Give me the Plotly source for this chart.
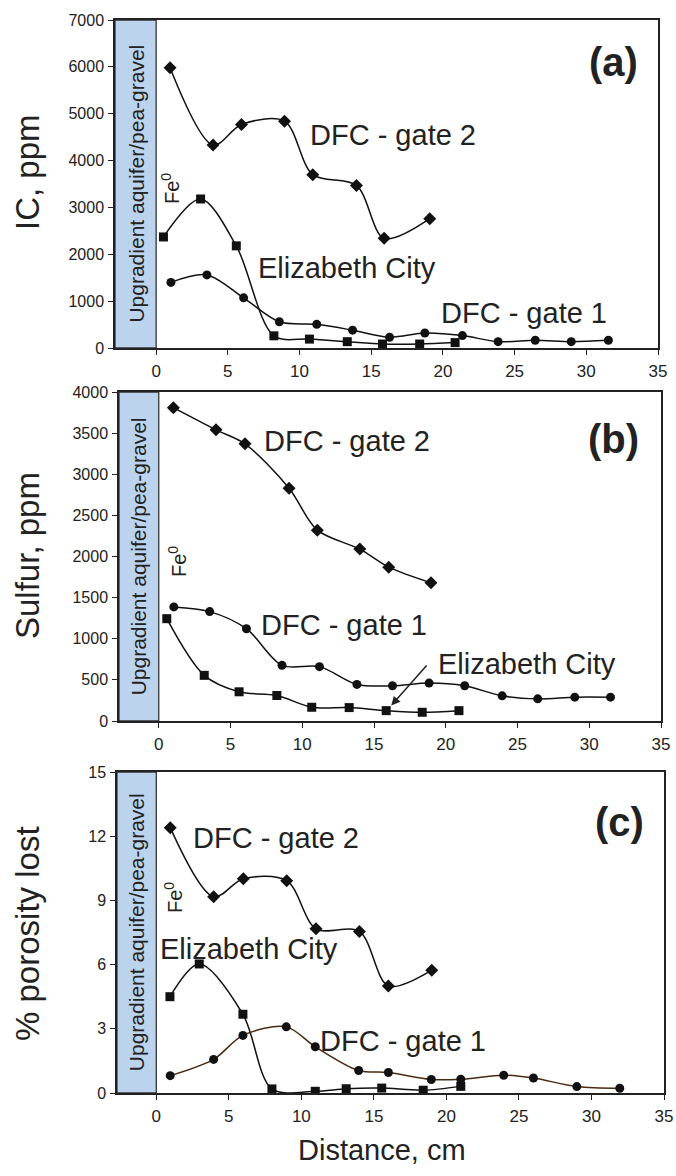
import plotly.graph_objects as go

W, H = 676, 1176
FONT = "Arial, Liberation Sans, sans-serif"

# ---------------- data ----------------
# Panel (a) IC, ppm
a_g2_x = [0.97, 3.97, 5.95, 8.95, 10.92, 13.97, 15.9, 19.08]
a_g2_y = [5980, 4330, 4770, 4840, 3700, 3470, 2340, 2760]
a_ec_x = [0.51, 3.10, 5.59, 8.21, 10.69, 13.33, 15.79, 18.38, 20.85]
a_ec_y = [2370, 3180, 2180, 260, 190, 135, 85, 85, 115]
a_g1_x = [1.03, 3.54, 6.10, 8.59, 11.2, 13.7, 16.28, 18.74, 21.36, 23.85, 26.44, 28.95, 31.54]
a_g1_y = [1400, 1560, 1070, 560, 505, 380, 230, 320, 265, 135, 165, 135, 165]

# Panel (b) Sulfur, ppm
b_g2_x = [1.02, 3.99, 6.01, 9.08, 11.05, 14.01, 16.03, 18.97]
b_g2_y = [3810, 3540, 3370, 2830, 2320, 2090, 1870, 1680]
b_g1_x = [1.05, 3.55, 6.11, 8.59, 11.2, 13.81, 16.29, 18.84, 21.32, 23.93, 26.41, 28.99, 31.48]
b_g1_y = [1387, 1330, 1122, 677, 661, 445, 428, 461, 428, 306, 269, 290, 290]
b_ec_x = [0.56, 3.17, 5.6, 8.23, 10.66, 13.27, 15.85, 18.36, 20.92]
b_ec_y = [1244, 555, 355, 310, 167, 163, 126, 106, 126]

# Panel (c) % porosity lost
c_g2_x = [0.96, 3.95, 6.0, 8.99, 11.01, 14.0, 16.0, 18.99]
c_g2_y = [12.40, 9.17, 10.01, 9.92, 7.67, 7.55, 5.00, 5.74]
c_ec_x = [0.94, 2.96, 5.97, 7.97, 10.96, 13.09, 15.54, 18.4, 20.99]
c_ec_y = [4.50, 6.03, 3.68, 0.19, 0.08, 0.20, 0.23, 0.13, 0.31]
c_g1_x = [0.96, 3.95, 5.97, 8.96, 10.96, 13.95, 16.0, 18.96, 20.99, 23.95, 26.0, 28.99, 31.95]
c_g1_y = [0.81, 1.57, 2.69, 3.09, 2.16, 1.05, 0.96, 0.63, 0.64, 0.83, 0.70, 0.30, 0.22]

x_ticks = [0, 5, 10, 15, 20, 25, 30, 35]
a_yticks = [0, 1000, 2000, 3000, 4000, 5000, 6000, 7000]
b_yticks = [0, 500, 1000, 1500, 2000, 2500, 3000, 3500, 4000]
c_yticks = [0, 3, 6, 9, 12, 15]

# ---------------- layout geometry (pixels) ----------------
panels = [
    dict(xa="x", ya="y", L=115, R=658, T=20, B=348, xmin=-2.87, ymax=7000, yt=a_yticks,
         title="IC, ppm", tpos=(27, 172), lab="(a)", lpos=(613, 62), fe=(171, 189)),
    dict(xa="x2", ya="y2", L=119, R=661, T=392, B=721, xmin=-2.77, ymax=4000, yt=b_yticks,
         title="Sulfur, ppm", tpos=(27, 556), lab="(b)", lpos=(613, 439), fe=(178, 562)),
    dict(xa="x3", ya="y3", L=117, R=664, T=772, B=1093, xmin=-2.71, ymax=15, yt=c_yticks,
         title="% porosity lost", tpos=(27, 934), lab="(c)", lpos=(619, 822), fe=(173, 897)),
]

def px(x):
    return x / W

def py(y):
    return 1 - y / H

fig = go.Figure()

def add_series(xs, ys, sym, size, axn, lc="#111111"):
    fig.add_trace(go.Scatter(
        x=xs, y=ys, mode="lines+markers",
        line=dict(color=lc, width=1.5, shape="spline", smoothing=0.9),
        marker=dict(symbol=sym, size=size, color="#111111"),
        xaxis=panels[axn]["xa"], yaxis=panels[axn]["ya"], showlegend=False,
        hoverinfo="skip"))

add_series(a_g2_x, a_g2_y, "diamond", 10, 0)
add_series(a_ec_x, a_ec_y, "square", 9, 0)
add_series(a_g1_x, a_g1_y, "circle", 9, 0)

add_series(b_g2_x, b_g2_y, "diamond", 10, 1)
add_series(b_g1_x, b_g1_y, "circle", 9, 1)
add_series(b_ec_x, b_ec_y, "square", 9, 1)

add_series(c_g2_x, c_g2_y, "diamond", 10, 2)
add_series(c_ec_x, c_ec_y, "square", 9, 2)
add_series(c_g1_x, c_g1_y, "circle", 9, 2, lc="#4a2a10")

layout = dict(
    width=W, height=H, margin=dict(l=0, r=0, t=0, b=0),
    paper_bgcolor="white", plot_bgcolor="white",
    font=dict(family=FONT, color="#222222"),
    showlegend=False,
)

shapes = []
annotations = []
for i, p in enumerate(panels):
    sfx = "" if i == 0 else str(i + 1)
    layout["xaxis" + sfx] = dict(
        domain=[px(p["L"]), px(p["R"])], range=[p["xmin"], 35],
        anchor=p["ya"], tickmode="array", tickvals=x_ticks,
        ticks="outside", ticklen=5, tickwidth=1.2, tickcolor="#222",
        showline=True, mirror=True, linecolor="#222", linewidth=1.5,
        showgrid=False, zeroline=False, automargin=False,
        tickfont=dict(size=17, family=FONT, color="#222"), ticklabelstandoff=2,
    )
    layout["yaxis" + sfx] = dict(
        domain=[py(p["B"]), py(p["T"])], range=[0, p["ymax"]],
        anchor=p["xa"], tickmode="array", tickvals=p["yt"],
        ticks="outside", ticklen=5, tickwidth=1.2, tickcolor="#222",
        showline=True, mirror=True, linecolor="#222", linewidth=1.5,
        showgrid=False, zeroline=False, automargin=False,
        tickfont=dict(size=16, family=FONT, color="#222"), ticklabelstandoff=1,
    )
    # blue band
    shapes.append(dict(type="rect", xref=p["xa"], yref=p["ya"],
                       x0=p["xmin"], x1=0, y0=0, y1=p["ymax"],
                       fillcolor="#BCD3EE", line=dict(color="#333", width=1.3),
                       layer="below"))
    annotations.append(dict(
        xref=p["xa"], yref=p["ya"], x=p["xmin"] / 2, y=p["ymax"] / 2,
        text="Upgradient aquifer/pea-gravel", textangle=-90, showarrow=False,
        font=dict(size=21, family=FONT, color="#222"),
        xanchor="center", yanchor="middle"))
    # y axis title
    annotations.append(dict(
        xref="paper", yref="paper", x=px(p["tpos"][0]), y=py(p["tpos"][1]),
        text=p["title"], textangle=-90, showarrow=False,
        font=dict(size=33, family=FONT, color="#222"),
        xanchor="center", yanchor="middle"))
    # panel label
    annotations.append(dict(
        xref="paper", yref="paper", x=px(p["lpos"][0]), y=py(p["lpos"][1]),
        text="<b>" + p["lab"] + "</b>", showarrow=False,
        font=dict(size=40, family=FONT, color="#222"),
        xanchor="center", yanchor="middle"))
    # Fe0
    annotations.append(dict(
        xref="paper", yref="paper", x=px(p["fe"][0]), y=py(p["fe"][1]),
        text="Fe<sup>0</sup>", textangle=-90, showarrow=False,
        font=dict(size=20, family=FONT, color="#222"),
        xanchor="center", yanchor="middle"))

# series labels (pixel positions of label centres)
labels = [
    ("DFC - gate 2", 393, 135), ("Elizabeth City", 347, 268), ("DFC - gate 1", 524, 313),
    ("DFC - gate 2", 347, 441), ("DFC - gate 1", 344, 625), ("Elizabeth City", 527, 664),
    ("DFC - gate 2", 276, 838), ("Elizabeth City", 249, 949), ("DFC - gate 1", 403, 1041),
]
for t, x, y in labels:
    annotations.append(dict(
        xref="paper", yref="paper", x=px(x), y=py(y), text=t, showarrow=False,
        font=dict(size=29, family=FONT, color="#222"),
        xanchor="center", yanchor="middle"))

# arrow in panel (b)
annotations.append(dict(
    xref="x2", yref="y2", axref="x2", ayref="y2",
    x=16.2, y=187, ax=18.76, ay=692, text="", showarrow=True,
    arrowhead=2, arrowsize=1.2, arrowwidth=1.5, arrowcolor="#222"))

# x axis title
annotations.append(dict(
    xref="paper", yref="paper", x=px(382), y=py(1150), text="Distance, cm",
    showarrow=False, font=dict(size=29, family=FONT, color="#222"),
    xanchor="center", yanchor="middle"))

layout["shapes"] = shapes
layout["annotations"] = annotations
fig.update_layout(**layout)
fig.write_html("out.html")
